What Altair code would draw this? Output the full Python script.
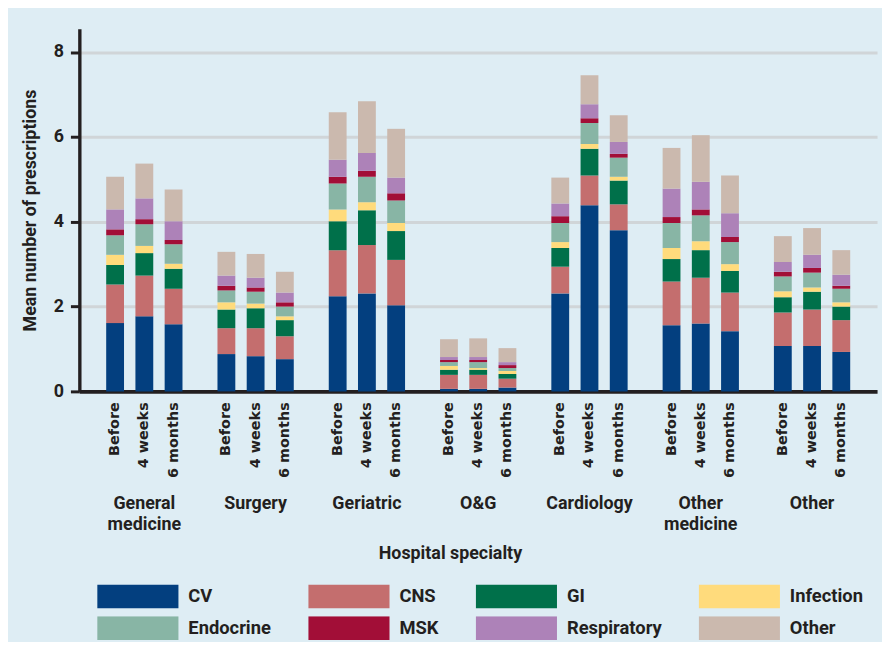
import altair as alt
import pandas as pd

specialties = ["General medicine", "Surgery", "Geriatric", "O&G", "Cardiology", "Other medicine", "Other"]
times = ["Before", "4 weeks", "6 months"]
categories = ["CV", "CNS", "GI", "Infection", "Endocrine", "MSK", "Respiratory", "Other"]
colors = ["#033f7f", "#c46e6e", "#00704a", "#ffdb7c", "#88b5a5", "#a20e37", "#ad82b8", "#cbb9ae"]

# segment heights, ordered specialty by specialty (Before, 4 weeks, 6 months)
cv = [1.61, 1.77, 1.58, 0.88, 0.83, 0.76, 2.24, 2.31, 2.03, 0.06, 0.06, 0.09, 2.31, 4.39, 3.80, 1.56, 1.60, 1.42, 1.07, 1.07, 0.93]
cns = [0.91, 0.96, 0.84, 0.61, 0.66, 0.54, 1.09, 1.14, 1.07, 0.33, 0.33, 0.21, 0.63, 0.70, 0.61, 1.03, 1.08, 0.91, 0.79, 0.86, 0.75]
gi = [0.46, 0.53, 0.47, 0.44, 0.47, 0.38, 0.68, 0.82, 0.68, 0.12, 0.12, 0.11, 0.44, 0.63, 0.56, 0.53, 0.65, 0.51, 0.36, 0.42, 0.32]
infection = [0.24, 0.17, 0.12, 0.17, 0.11, 0.09, 0.28, 0.19, 0.19, 0.09, 0.04, 0.07, 0.14, 0.11, 0.09, 0.26, 0.21, 0.16, 0.14, 0.10, 0.10]
endocrine = [0.46, 0.51, 0.46, 0.28, 0.28, 0.23, 0.61, 0.60, 0.53, 0.09, 0.14, 0.07, 0.45, 0.50, 0.45, 0.59, 0.61, 0.52, 0.35, 0.35, 0.32]
msk = [0.14, 0.12, 0.10, 0.11, 0.10, 0.10, 0.16, 0.14, 0.17, 0.05, 0.05, 0.07, 0.16, 0.11, 0.09, 0.14, 0.14, 0.12, 0.11, 0.11, 0.07]
respiratory = [0.47, 0.49, 0.44, 0.24, 0.23, 0.23, 0.40, 0.42, 0.37, 0.07, 0.07, 0.07, 0.30, 0.33, 0.28, 0.67, 0.65, 0.56, 0.23, 0.31, 0.26]
other = [0.77, 0.82, 0.75, 0.56, 0.56, 0.49, 1.12, 1.22, 1.15, 0.42, 0.44, 0.33, 0.61, 0.68, 0.63, 0.96, 1.10, 0.89, 0.61, 0.63, 0.58]

series = {"CV": cv, "CNS": cns, "GI": gi, "Infection": infection, "Endocrine": endocrine,
          "MSK": msk, "Respiratory": respiratory, "Other": other}

rows = []
for ci, cat in enumerate(categories):
    vals = series[cat]
    k = 0
    for s in specialties:
        for t in times:
            rows.append({"specialty": s, "time": t, "category": cat, "ord": ci, "value": vals[k]})
            k += 1
df = pd.DataFrame(rows)
labels_df = pd.DataFrame([{"specialty": s, "time": t} for s in specialties for t in times])

W, H = 805, 366
FONT = "Roboto"
DARK = "#231f20"

x_axis = alt.Axis(
    title="Hospital specialty", labelAngle=0, labelExpr="split(datum.label, ' ')",
    labelBaseline="top", labelPadding=104, labelLineHeight=21, ticks=False,
    domainWidth=3.6, domainColor=DARK, labelFontSize=18, labelFontWeight="bold",
    labelColor=DARK, labelFont=FONT, titleFont=FONT, titleFontSize=18, titleFontWeight="bold",
    titleColor=DARK, titleX=374, titleY=155, titleBaseline="top", titleAlign="center",
    grid=False, labelOverlap=False,
)
x_enc = alt.X("specialty:N", sort=specialties,
              scale=alt.Scale(paddingInner=0.212, paddingOuter=0.19), axis=x_axis)
xoff = alt.XOffset("time:N", sort=times, scale=alt.Scale(paddingInner=0.39, paddingOuter=0.195))

y_axis = alt.Axis(
    values=[0, 2, 4, 6, 8], title="Mean number of prescriptions", titleFont=FONT,
    titleFontSize=18, titleFontWeight="bold", titleColor=DARK, titlePadding=14,
    labelFont=FONT, labelFontSize=18, labelFontWeight="bold", labelColor=DARK,
    labelPadding=7, tickSize=9, tickWidth=3, tickColor=DARK, domainWidth=3.4,
    domainColor=DARK, gridColor="#d0d5d8", gridWidth=3,
)

bars = alt.Chart(df).mark_bar().encode(
    x=x_enc,
    xOffset=xoff,
    y=alt.Y("value:Q", stack="zero", scale=alt.Scale(domain=[0, 8.55], nice=False), axis=y_axis),
    color=alt.Color(
        "category:N", sort=categories,
        scale=alt.Scale(domain=categories, range=colors),
        legend=alt.Legend(
            orient="none", legendX=18, legendY=561, direction="horizontal", columns=4,
            gridAlign="each", columnPadding=37, rowPadding=8, clipHeight=24,
            symbolType="M-1,-0.293L1,-0.293L1,0.293L-1,0.293Z", symbolSize=6724,
            symbolStrokeWidth=0, symbolOpacity=1, labelOffset=10, labelFontSize=18.5,
            labelFontWeight="bold", labelFont=FONT, labelColor=DARK, title=None,
        ),
    ),
    order=alt.Order("ord:Q", sort="ascending"),
)

tlabels = alt.Chart(labels_df).mark_text(
    angle=270, align="right", baseline="middle", font="DejaVu Sans",
    fontWeight="bold", fontSize=14.5, color=DARK,
).encode(
    x=x_enc,
    xOffset=xoff,
    y=alt.value(H + 11),
    text="time:N",
)

chart = alt.layer(bars, tlabels).properties(
    width=W, height=H,
    autosize=alt.AutoSizeParams(type="none"),
    padding={"left": 72, "top": 18, "right": 5, "bottom": 250},
    background="#deedf4",
).configure_view(stroke=None)

chart.save("out.html", embed_options={"renderer": "svg", "actions": False})
